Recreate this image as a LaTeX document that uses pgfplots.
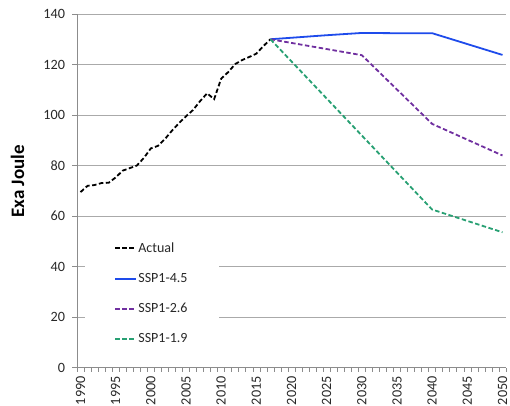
\documentclass[border=0pt]{standalone}
\usepackage{pgfplots}
\pgfplotsset{compat=1.18}
\usepackage{fontspec}
\setmainfont{Carlito}
\definecolor{gridc}{RGB}{170,170,170}
\definecolor{axc}{RGB}{140,140,140}
\definecolor{sspblue}{RGB}{30,75,235}
\definecolor{ssppurple}{RGB}{112,48,160}
\definecolor{sspgreen}{RGB}{40,160,115}
\definecolor{txt}{RGB}{40,40,40}
\begin{document}
\begin{tikzpicture}
\path[use as bounding box] (-77pt,-37.3pt) rectangle (433pt,367.7pt);
\begin{axis}[
  at={(0,0)}, anchor=south west,
  scale only axis, width=429pt, height=353.7pt,
  xmin=1989.5, xmax=2050.5, ymin=0, ymax=140,
  axis x line*=bottom, axis y line*=left,
  axis line style={draw=axc, line width=0.8pt},
  xtick={1990,1995,...,2050},
  minor xtick={1989.5,1990.5,...,2050.5},
  ytick={0,20,...,140},
  tick align=outside,
  major x tick style={draw=none},
  minor x tick style={draw=axc, line width=0.6pt},
  minor tick length=4pt,
  major y tick style={draw=axc, line width=0.8pt},
  major tick length=5pt,
  ymajorgrids, grid style={draw=gridc, line width=0.9pt},
  /pgf/number format/assume math mode=true,
  /pgf/number format/1000 sep={},
  x tick label style={rotate=90, anchor=east, font=\fontsize{14.2}{16}\selectfont, text=txt},
  y tick label style={font=\fontsize{14.2}{16}\selectfont, text=txt, xshift=-3.5pt},
  ylabel={\textbf{Exa Joule}},
  ylabel style={at={(axis description cs:-0.1387,0.527)}, anchor=center, font=\fontsize{19}{21}\selectfont},
  legend style={at={(axis description cs:0.0171,0.374)}, anchor=north west,
    draw=none, fill=white, font=\fontsize{14}{16}\selectfont, text=txt,
    inner xsep=30pt, inner ysep=6pt, row sep=17.5pt,
    nodes={inner sep=1pt}},
  legend cell align=left,
  legend image code/.code={\draw[mark repeat=2,mark phase=2] plot coordinates {(0pt,0pt) (21pt,0pt)};},
  clip=false,
]
\addplot[black, line width=1.8pt, dash pattern=on 4.5pt off 2.5pt] coordinates {
(1990,69.5) (1991,72) (1992,72.3) (1993,73.1) (1994,73.2) (1995,75.3)
(1996,78) (1997,79) (1998,80) (1999,83) (2000,86.8) (2001,87.8)
(2002,90.5) (2003,93.8) (2004,96.8) (2005,99.5) (2006,102) (2007,105.5)
(2008,108.6) (2009,106.3) (2010,114.4) (2011,117) (2012,120.2) (2013,121.8)
(2014,123) (2015,124.3) (2016,127.3) (2017,130)};
\addlegendentry{Actual}
\addplot[sspblue, line width=1.8pt] coordinates {
(2017,130) (2020,130.6) (2025,131.6) (2030,132.5) (2035,132.4) (2040,132.4) (2050,123.8)};
\addlegendentry{SSP1-4.5}
\addplot[color=ssppurple, line width=1.8pt, dash pattern=on 4.5pt off 2.5pt] coordinates {
(2017,130) (2030,123.7) (2040,96.5) (2050,84)};
\addlegendentry{SSP1-2.6}
\addplot[sspgreen, line width=1.8pt, dash pattern=on 4.5pt off 2.5pt] coordinates {
(2017,130) (2040,62.6) (2050,53.6)};
\addlegendentry{SSP1-1.9}
\end{axis}
\end{tikzpicture}
\end{document}
